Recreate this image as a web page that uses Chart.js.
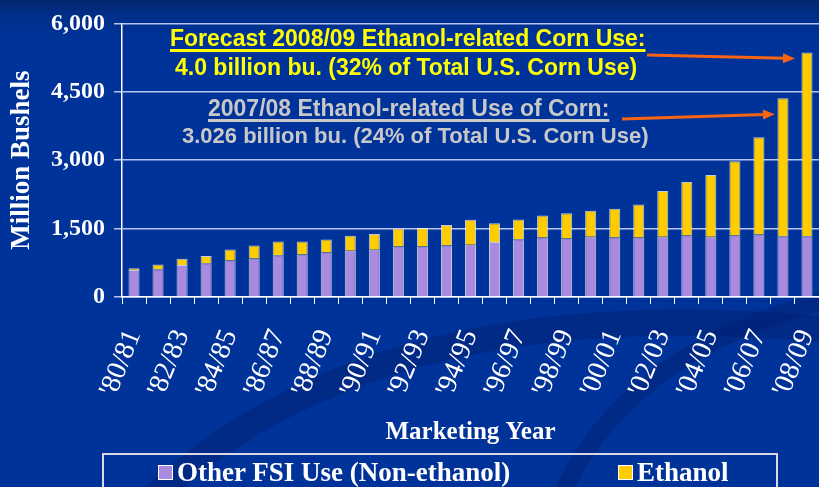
<!DOCTYPE html>
<html>
<head>
<meta charset="utf-8">
<script src="https://cdn.jsdelivr.net/npm/chart.js@4"></script>
<style>
  html, body { margin: 0; padding: 0; }
  body {
    width: 819px; height: 487px; overflow: hidden; position: relative;
    background: linear-gradient(180deg, #00266e 0px, #002f8a 16px, #003399 40px, #003399 100%);
  }
  #wrap { position: absolute; left: 0; top: 0; width: 819px; height: 487px; }
  .note { position: absolute; font-family: "Liberation Sans", Arial, sans-serif; font-weight: bold; font-size: 23px; white-space: nowrap; line-height: 1; }
  .yellow { color: #ffff00; }
  .gray { color: #c8c8c8; }
  .ul { text-decoration: underline; text-decoration-thickness: 3px; text-underline-offset: 3px; }
  #legend {
    position: absolute; left: 102px; top: 453px; width: 672px; height: 40px;
    border: 2px solid #d8d8e8; border-bottom: none;
    font-family: "Liberation Serif", "Times New Roman", serif; font-weight: bold; font-size: 27px; color: #fff;
  }
  #legend span.item { position: absolute; top: 2px; }
  #legend i { display: inline-block; width: 13px; height: 13px; border: 1px solid #fff; margin-right: 4px; vertical-align: 1px; }
</style>
</head>
<body>
<div id="wrap"><canvas id="cornChart" width="819" height="487"></canvas></div>

<div class="note yellow ul" style="left:170px; top:27px;">Forecast 2008/09 Ethanol-related Corn Use:</div>
<div class="note yellow" style="left:175px; top:56px;">4.0 billion bu. (32% of Total U.S. Corn Use)</div>
<div class="note gray ul" style="left:208px; top:97px;">2007/08 Ethanol-related Use of Corn:</div>
<div class="note gray" style="left:182px; top:125px; font-size:22px;">3.026 billion bu. (24% of Total U.S. Corn Use)</div>

<div id="legend">
  <span class="item" style="left:54px;"><i style="background:#a98ade"></i>Other FSI Use (Non-ethanol)</span>
  <span class="item" style="left:514px;"><i style="background:#ffcc00"></i>Ethanol</span>
</div>

<script>
// Marketing years, 1980/81 through 2008/09 (forecast)
const years = ["'80/81", "'81/82", "'82/83", "'83/84", "'84/85", "'85/86", "'86/87", "'87/88",
    "'88/89", "'89/90", "'90/91", "'91/92", "'92/93", "'93/94", "'94/95", "'95/96", "'96/97",
    "'97/98", "'98/99", "'99/00", "'00/01", "'01/02", "'02/03", "'03/04", "'04/05", "'05/06",
    "'06/07", "'07/08", "'08/09"];

// Million bushels
const otherFsi = [590, 610, 700, 740, 800, 845, 915, 930, 975, 1015, 1035, 1110, 1110, 1130,
    1145, 1205, 1265, 1305, 1285, 1320, 1305, 1305, 1320, 1350, 1320, 1350, 1370, 1330, 1330];
const ethanol = [40, 100, 140, 160, 240, 285, 300, 285, 285, 330, 345, 390, 405, 450,
    550, 415, 435, 480, 550, 570, 630, 725, 1005, 1170, 1355, 1625, 2135, 3030, 4030];

const yTicks = [0, 1500, 3000, 4500, 6000];

const serif = '"Liberation Serif", "Times New Roman", serif';
const gridColor = 'rgba(215, 222, 255, 0.85)';

// faint swooshes from the slide template, behind everything
const backdrop = {
    id: 'backdrop',
    beforeDraw(chart) {
        const c = chart.ctx;
        c.save();
        c.strokeStyle = 'rgba(0, 30, 110, 0.45)';
        c.lineWidth = 26;
        c.beginPath();
        c.moveTo(150, 500);
        c.bezierCurveTo(300, 360, 520, 300, 830, 330);
        c.stroke();
        c.lineWidth = 18;
        c.beginPath();
        c.moveTo(560, 500);
        c.bezierCurveTo(600, 400, 700, 330, 830, 300);
        c.stroke();
        c.restore();
    }
};

// orange arrows pointing at the last two bars
const arrows = {
    id: 'arrows',
    afterDatasetsDraw(chart) {
        const x = chart.scales.x, y = chart.scales.y, c = chart.ctx;
        const n = years.length;
        const top = i => y.getPixelForValue(otherFsi[i] + ethanol[i]);
        const drawArrow = (x0, y0, x1, y1) => {
            const a = Math.atan2(y1 - y0, x1 - x0);
            c.beginPath();
            c.moveTo(x0, y0);
            c.lineTo(x1 - 10 * Math.cos(a), y1 - 10 * Math.sin(a));
            c.stroke();
            c.beginPath();
            c.moveTo(x1, y1);
            c.lineTo(x1 - 12 * Math.cos(a) + 5 * Math.sin(a), y1 - 12 * Math.sin(a) - 5 * Math.cos(a));
            c.lineTo(x1 - 12 * Math.cos(a) - 5 * Math.sin(a), y1 - 12 * Math.sin(a) + 5 * Math.cos(a));
            c.closePath();
            c.fill();
        };
        c.save();
        c.strokeStyle = '#f86414';
        c.fillStyle = '#f86414';
        c.lineWidth = 3;
        drawArrow(647, 55, x.getPixelForValue(n - 1) - 12, top(n - 1) + 6);
        drawArrow(622, 119, x.getPixelForValue(n - 2) - 8, top(n - 2) + 16);
        c.restore();
    }
};

new Chart(document.getElementById('cornChart').getContext('2d'), {
    type: 'bar',
    data: {
        labels: years,
        datasets: [{
            label: 'Other FSI Use (Non-ethanol)',
            data: otherFsi,
            backgroundColor: '#a98ade',
            borderColor: 'rgba(255, 255, 255, 0.75)',
            borderWidth: 1,
            barPercentage: 0.46,
            categoryPercentage: 1
        }, {
            label: 'Ethanol',
            data: ethanol,
            backgroundColor: '#ffcc00',
            borderColor: 'rgba(255, 255, 255, 0.75)',
            borderWidth: 1,
            barPercentage: 0.46,
            categoryPercentage: 1
        }]
    },
    options: {
        responsive: false,
        animation: false,
        layout: { padding: { top: 18, right: 0, bottom: 39, left: 0 } },
        plugins: {
            legend: { display: false },
            tooltip: { enabled: false }
        },
        scales: {
            x: {
                stacked: true,
                // keep the plot running to the right edge like the slide
                afterFit: s => { s.height = 151; s.paddingLeft = 0; s.paddingRight = 0; },
                border: { color: '#ffffff', width: 1.5 },
                grid: { drawOnChartArea: false, color: '#ffffff', tickLength: 7 },
                ticks: {
                    autoSkip: false,
                    minRotation: 68,
                    maxRotation: 68,
                    padding: 21,
                    color: '#ffffff',
                    font: { family: serif, size: 28 },
                    callback: (v, i) => (i % 2 === 0 ? years[i] : '')
                },
                title: {
                    display: true,
                    text: 'Marketing Year',
                    color: '#ffffff',
                    font: { family: serif, size: 25, weight: 'bold' },
                    padding: { top: 0, bottom: 0 }
                }
            },
            y: {
                stacked: true,
                min: yTicks[0],
                max: yTicks[yTicks.length - 1],
                afterFit: s => { s.width = 122; },
                afterBuildTicks: s => { s.ticks = yTicks.map(v => ({ value: v })); },
                border: { color: '#ffffff', width: 1.5 },
                grid: { color: gridColor, lineWidth: 1.5, tickLength: 8 },
                ticks: {
                    padding: 9,
                    color: '#ffffff',
                    font: { family: serif, size: 24, weight: 'bold' },
                    callback: v => v.toLocaleString('en-US')
                },
                title: {
                    display: true,
                    text: 'Million Bushels',
                    color: '#ffffff',
                    font: { family: serif, size: 27, weight: 'bold' },
                    padding: { top: 6, bottom: 0 }
                }
            }
        }
    },
    plugins: [backdrop, arrows]
});
</script>
</body>
</html>
